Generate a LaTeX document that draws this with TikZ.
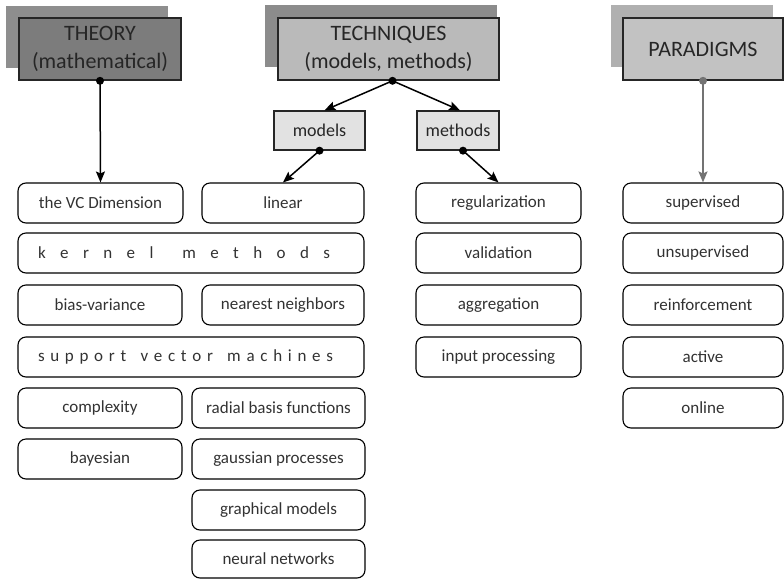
\documentclass[tikz,border=0pt]{standalone}
\usepackage{fontspec}
\setmainfont{Carlito}
\usetikzlibrary{arrows.meta,calc}
\definecolor{thrfront}{RGB}{124,124,124}
\definecolor{thrshadow}{RGB}{142,142,142}
\definecolor{tecfront}{RGB}{186,186,186}
\definecolor{tecshadow}{RGB}{140,140,140}
\definecolor{parfront}{RGB}{194,194,194}
\definecolor{parshadow}{RGB}{176,176,176}
\definecolor{subfill}{RGB}{226,226,226}
\definecolor{itemtxt}{RGB}{50,50,50}
\definecolor{pargray}{RGB}{115,115,115}
\newcommand\sg{\hskip 0pt plus 1fil\relax}
\newcommand\wgk{\hskip 0pt plus 2fil\relax}
\newcommand\wgs{\hskip 0pt plus 2.5fil\relax}
\begin{document}
\begin{tikzpicture}[x=1pt,y=-1pt,
  item/.style={draw=black, rounded corners=8pt, line width=1.1pt, inner sep=0pt,
    minimum height=40pt, text=itemtxt, font=\fontsize{17}{20}\selectfont},
  header/.style={draw=black!85, line width=1.6pt, inner sep=0pt, minimum height=62pt,
    align=center, text=black!85, font=\fontsize{22}{28}\selectfont},
  shadowbox/.style={inner sep=0pt, minimum height=62pt},
  subbox/.style={draw=black!85, fill=subfill, line width=1.3pt, inner sep=0pt,
    minimum height=39pt, text=black!85, font=\fontsize{18}{20}\selectfont},
  conn/.style={line width=1.5pt, -{Stealth[length=11pt,width=9pt,inset=2pt]}},
  dot/.style={radius=4pt}]
\useasboundingbox (0,0) rectangle (784,579);
% header shadows
\node[shadowbox, fill=thrshadow, minimum width=162pt] (thrsh) at (87,36.5) {};
\node[shadowbox, fill=tecshadow, minimum width=232pt] (tecsh) at (381,36) {};
\node[shadowbox, fill=parshadow, minimum width=162pt] (parsh) at (692,36) {};
% headers
\node[header, fill=thrfront, minimum width=162pt] (thr) at (100,49) {THEORY\\(mathematical)};
\node[header, fill=tecfront, minimum width=221pt] (tec) at (388.5,49) {TECHNIQUES\\(models, methods)};
\node[header, fill=parfront, minimum width=160pt] (par) at (703,49) {PARADIGMS};
% sub boxes
\node[subbox, minimum width=91pt] (mod) at (319.5,130.5) {models};
\node[subbox, minimum width=82pt] (met) at (458,130.5) {methods};
% theory / models items
\node[item, minimum width=165pt] (vc) at (100.5,203) {the VC Dimension};
\node[item, minimum width=162pt] (lin) at (283,203) {linear};
\node[item, minimum width=346pt] (ker) at (191,253)
  {\hbox to 346pt{\hskip 20pt k\sg e\sg r\sg n\sg e\sg l\wgk m\sg e\sg t\sg h\sg o\sg d\sg s\hskip 34pt}};
\node[item, minimum width=164pt] (bias) at (100,305) {bias-variance};
\node[item, minimum width=162pt] (nn) at (283,305) {nearest neighbors};
\node[item, minimum width=346pt] (svm) at (191,357)
  {\hbox to 346pt{\hskip 20pt s\sg u\sg p\sg p\sg o\sg r\sg t\wgs v\sg e\sg c\sg t\sg o\sg r\wgs m\sg a\sg c\sg h\sg i\sg n\sg e\sg s\hskip 31pt}};
\node[item, minimum width=164pt] (cx) at (100,408) {complexity};
\node[item, minimum width=173pt] (rbf) at (278.5,408) {radial basis functions};
\node[item, minimum width=164pt] (bay) at (100,459) {bayesian};
\node[item, minimum width=173pt] (gp) at (278.5,459) {gaussian processes};
\node[item, minimum width=173pt] (gm) at (278.5,510) {graphical models};
\node[item, minimum width=173pt, minimum height=38pt] (neu) at (278.5,559) {neural networks};
% methods items
\node[item, minimum width=165pt] (reg) at (498.5,203) {regularization};
\node[item, minimum width=165pt] (val) at (498.5,253) {validation};
\node[item, minimum width=165pt] (agg) at (498.5,305) {aggregation};
\node[item, minimum width=165pt] (inp) at (498.5,357) {input processing};
% paradigms items
\node[item, minimum width=160pt] (sup) at (703,203) {supervised};
\node[item, minimum width=160pt] (uns) at (703,253) {unsupervised};
\node[item, minimum width=160pt] (rei) at (703,305) {reinforcement};
\node[item, minimum width=160pt] (act) at (703,357) {active};
\node[item, minimum width=160pt] (onl) at (703,408) {online};
% connectors
\coordinate (tecdot) at ($(tec.south)+(4,0)$);
\draw[conn] (thr.south) -- (vc.north);
\fill (thr.south) circle[dot];
\draw[conn] (tecdot) -- ($(mod.north)+(5,0)$);
\draw[conn] (tecdot) -- ($(met.north)+(2,0)$);
\fill (tecdot) circle[dot];
\draw[conn] (mod.south) -- (lin.north);
\fill (mod.south) circle[dot];
\draw[conn] ($(met.south)+(5,0)$) -- (reg.north);
\fill ($(met.south)+(5,0)$) circle[dot];
\draw[conn, draw=pargray, fill=pargray] (par.south) -- (sup.north);
\fill[pargray] (par.south) circle[dot];
\end{tikzpicture}
\end{document}
